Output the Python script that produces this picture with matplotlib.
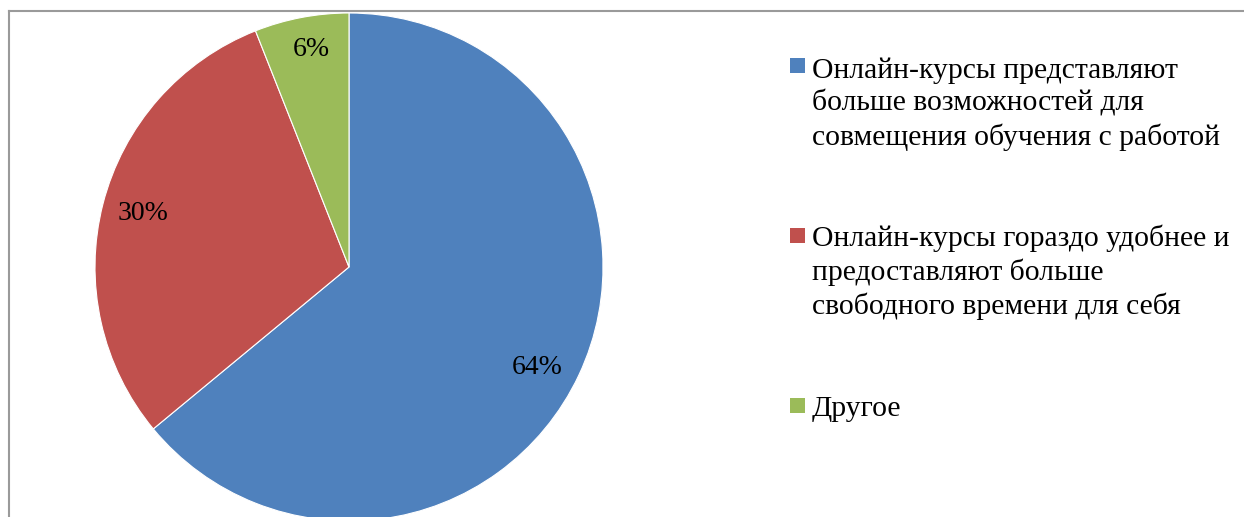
import matplotlib.pyplot as plt
from matplotlib.patches import Rectangle
from matplotlib.lines import Line2D

labels = ["Онлайн-курсы представляют\nбольше возможностей для\nсовмещения обучения с работой",
          "Онлайн-курсы гораздо удобнее и\nпредоставляют больше\nсвободного времени для себя",
          "Другое"]
values = [64, 30, 6]
colors = ["#4F81BD", "#C0504D", "#9BBB59"]

plt.rcParams['font.family'] = ['Liberation Serif', 'DejaVu Serif']

W, H = 1244, 517
fig = plt.figure(figsize=(W / 100, H / 100), dpi=100)
ax = fig.add_axes([0, 0, 1, 1])
ax.axis('off')

# pie drawn in pixel units (y up)
wedges, texts, autotexts = ax.pie(values, colors=colors, startangle=90, counterclock=False,
                                  center=(349, H - 267), radius=254, autopct='%d%%', pctdistance=0.84,
                                  wedgeprops=dict(edgecolor='white', linewidth=0.8),
                                  textprops=dict(fontsize=20, color='black'))
# nudge the percent labels a bit like excel's "best fit"
nudge = [(-5, -10), (1, 0), (2, 8)]
for t, (dx, dy) in zip(autotexts, nudge):
    x, y = t.get_position()
    t.set_position((x + dx, y + dy))
ax.set_xlim(0, W)
ax.set_ylim(0, H)

# frame of the chart area
fig.add_artist(Line2D([9 / W, 9 / W], [0, 1 - 11 / H], transform=fig.transFigure, color='#9a9a9a', lw=1.5))
fig.add_artist(Line2D([9 / W, 1], [1 - 11 / H, 1 - 11 / H], transform=fig.transFigure, color='#9a9a9a', lw=1.5))

# legend
sq_top = [58, 228, 398]
txt_top = [57, 225, 396]
for lab, c, sy, ty in zip(labels, colors, sq_top, txt_top):
    ax.add_patch(Rectangle((790, H - sy - 15), 15, 15, color=c, lw=0))
    ax.text(812, H - ty, lab, fontsize=21.3, va='top', ha='left', linespacing=1.3)

fig.savefig("out.png", dpi=100)
